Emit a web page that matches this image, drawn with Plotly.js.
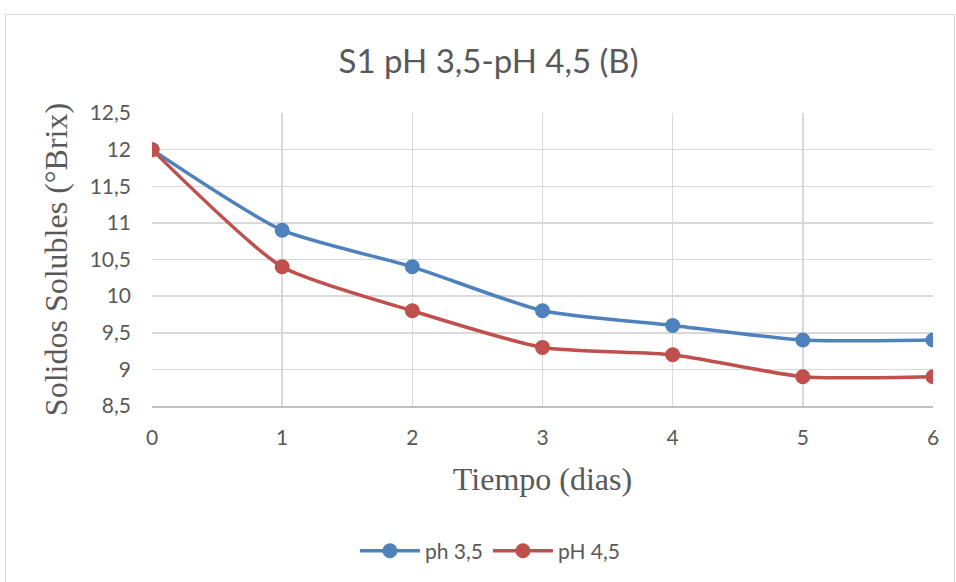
<!DOCTYPE html>
<html><head><meta charset="utf-8">
<script src="https://cdn.plot.ly/plotly-3.0.1.min.js"></script>
<style>html,body{margin:0;padding:0;background:#fff;}#wrap{position:relative;width:956px;height:582px;overflow:hidden;}#frame{position:absolute;left:5px;top:14px;width:948px;height:600px;border:1px solid #d9d9d9;pointer-events:none;}</style>
</head><body>
<div id="wrap"><div id="chart" style="width:956px;height:582px;"></div><div id="frame"></div></div>
<script>
const days = [0, 1, 2, 3, 4, 5, 6];
const ph35 = [12, 10.9, 10.4, 9.8, 9.6, 9.4, 9.4];
const ph45 = [12, 10.4, 9.8, 9.3, 9.2, 8.9, 8.9];
const yTicks = [8.5, 9, 9.5, 10, 10.5, 11, 11.5, 12, 12.5];
const yTickText = ['8,5', '9', '9,5', '10', '10,5', '11', '11,5', '12', '12,5'];

const sans = 'Lato, "Open Sans", sans-serif';
const serif = '"Liberation Serif", "Times New Roman", serif';
const traces = [
  {x: days, y: ph35, name: 'ph 3,5', type: 'scatter', mode: 'lines+markers',
   line: {color: '#4f81bd', width: 3.5, shape: 'spline', smoothing: 0.6},
   marker: {color: '#4f81bd', size: 15}},
  {x: days, y: ph45, name: 'pH 4,5', type: 'scatter', mode: 'lines+markers',
   line: {color: '#c0504d', width: 3.5, shape: 'spline', smoothing: 0.6},
   marker: {color: '#c0504d', size: 15}}
];
const layout = {
  width: 956, height: 582,
  margin: {l: 152, r: 23, t: 113, b: 176},
  paper_bgcolor: '#fff', plot_bgcolor: '#fff',
  showlegend: true,
  title: {text: 'S1 pH 3,5-pH 4,5 (B)', font: {family: sans, size: 33, color: '#595959'},
          xref: 'container', yref: 'container', x: 0.511, y: 0.895, xanchor: 'center', yanchor: 'middle'},
  xaxis: {range: [0, 6], tickvals: days, ticktext: days.map(String),
          showgrid: true, gridcolor: '#d9d9d9', gridwidth: 1.5, zeroline: false,
          showline: true, linecolor: '#bfbfbf', linewidth: 1.5, ticks: '', ticklabelstandoff: 12,
          tickfont: {family: sans, size: 21, color: '#595959'},
          title: {text: 'Tiempo (dias)', font: {family: serif, size: 32, color: '#595959'}, standoff: 20}},
  yaxis: {range: [8.5, 12.5], tickvals: yTicks, ticktext: yTickText,
          showgrid: true, gridcolor: '#d9d9d9', gridwidth: 1.5, zeroline: false,
          showline: false, ticks: '', ticklabelstandoff: 20,
          tickfont: {family: sans, size: 21, color: '#595959'},
          title: {text: 'Solidos Solubles (°Brix)', font: {family: serif, size: 32, color: '#595959'}, standoff: 12}},
  legend: {orientation: 'h', xref: 'container', yref: 'container', x: 0.513, y: 0.053,
           xanchor: 'center', yanchor: 'middle', font: {family: sans, size: 21, color: '#595959'},
           itemwidth: 60, tracegroupgap: 0}
};
Plotly.newPlot('chart', traces, layout, {displayModeBar: false, staticPlot: true});
</script>
</body></html>
